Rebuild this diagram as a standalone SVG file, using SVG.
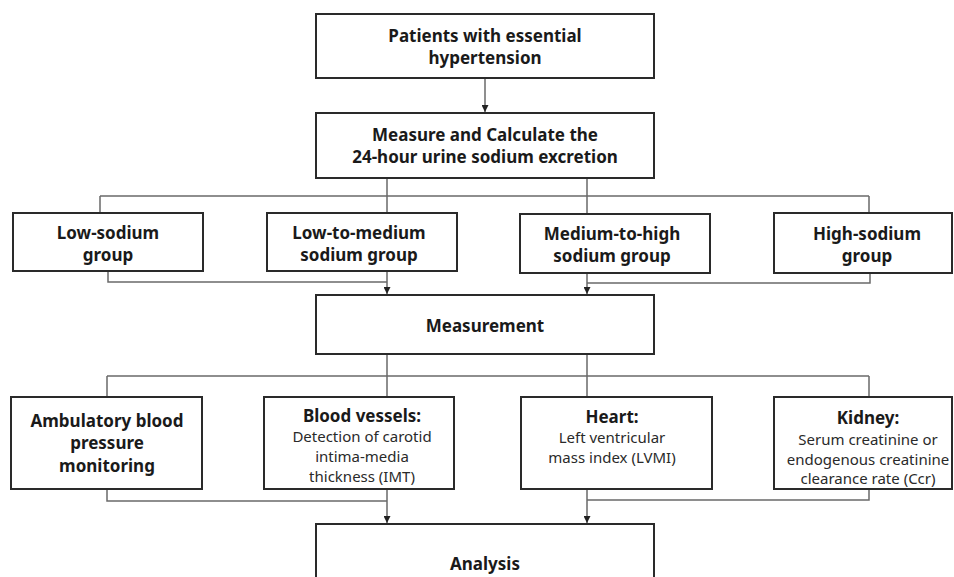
<svg xmlns="http://www.w3.org/2000/svg" width="954" height="577" viewBox="0 0 954 577">
<defs>
<marker id="arr" markerWidth="8" markerHeight="7" refX="7" refY="3.5" orient="auto" markerUnits="userSpaceOnUse">
<path d="M0,0 L7,3.5 L0,7 Z" fill="#222"/>
</marker>
<style>
.box{fill:#fff;stroke:#2a2a2a;stroke-width:2}
.c{fill:none;stroke:#6a6a6a;stroke-width:1.5}
.b{font-family:"Noto Sans","Open Sans","Liberation Sans",sans-serif;font-weight:bold;font-size:17px;fill:#1a1a1a;text-anchor:middle}
.r{font-family:"Noto Sans","Open Sans","Liberation Sans",sans-serif;font-size:15px;fill:#2a2a2a;text-anchor:middle}
</style>
</defs>
<rect width="954" height="577" fill="#fff"/>
<g id="connectors">
<path class="c" d="M485,78 V112" marker-end="url(#arr)"/>
<path class="c" d="M387,178 V196 M587,178 V196 M100,196 H869 M100,196 V213 M387,196 V213 M587,196 V214 M869,196 V213"/>
<path class="c" d="M108,271 V282 H387 M387,271 V294" marker-end="url(#arr)"/>
<path class="c" d="M870,273 V283 H587 M587,273 V294" marker-end="url(#arr)"/>
<path class="c" d="M387,354 V376 M587,354 V376 M107,376 H869 M107,376 V397 M387,376 V397 M587,376 V397 M869,376 V397"/>
<path class="c" d="M107,489 V501 H387 M387,489 V523" marker-end="url(#arr)"/>
<path class="c" d="M869,489 V500 H587 M587,489 V523" marker-end="url(#arr)"/>
</g>
<g id="patients">
<rect class="box" x="316" y="14" width="338" height="64"/>
<text class="b" x="485" y="42">Patients with essential</text>
<text class="b" x="485" y="64">hypertension</text>
</g>
<g id="measure">
<rect class="box" x="316" y="113" width="338" height="65"/>
<text class="b" x="485" y="141">Measure and Calculate the</text>
<text class="b" x="485" y="163">24-hour urine sodium excretion</text>
</g>
<g id="low">
<rect class="box" x="13" y="213" width="190" height="58"/>
<text class="b" x="108" y="239">Low-sodium</text>
<text class="b" x="108" y="261">group</text>
</g>
<g id="lowmed">
<rect class="box" x="267" y="213" width="190" height="58"/>
<text class="b" x="359" y="239">Low-to-medium</text>
<text class="b" x="359" y="261">sodium group</text>
</g>
<g id="medhigh">
<rect class="box" x="520" y="214" width="190" height="59"/>
<text class="b" x="612" y="240">Medium-to-high</text>
<text class="b" x="612" y="262">sodium group</text>
</g>
<g id="high">
<rect class="box" x="774" y="213" width="178" height="60"/>
<text class="b" x="867" y="240">High-sodium</text>
<text class="b" x="867" y="262">group</text>
</g>
<g id="measurement">
<rect class="box" x="316" y="295" width="338" height="59"/>
<text class="b" x="485" y="332">Measurement</text>
</g>
<g id="ambulatory">
<rect class="box" x="11" y="397" width="191" height="92"/>
<text class="b" x="107" y="427">Ambulatory blood</text>
<text class="b" x="107" y="449">pressure</text>
<text class="b" x="107" y="472">monitoring</text>
</g>
<g id="vessels">
<rect class="box" x="264" y="397" width="190" height="92"/>
<text class="b" x="362" y="422">Blood vessels:</text>
<text class="r" x="362" y="442">Detection of carotid</text>
<text class="r" x="362" y="462">intima-media</text>
<text class="r" x="362" y="482">thickness (IMT)</text>
</g>
<g id="heart">
<rect class="box" x="521" y="397" width="191" height="92"/>
<text class="b" x="612" y="423">Heart:</text>
<text class="r" x="612" y="443">Left ventricular</text>
<text class="r" x="612" y="463">mass index (LVMI)</text>
</g>
<g id="kidney">
<rect class="box" x="774" y="397" width="178" height="92"/>
<text class="b" x="868" y="424">Kidney:</text>
<text class="r" x="868" y="445">Serum creatinine or</text>
<text class="r" x="868" y="465">endogenous creatinine</text>
<text class="r" x="868" y="484">clearance rate (Ccr)</text>
</g>
<g id="analysis">
<rect class="box" x="316" y="524" width="338" height="70"/>
<text class="b" x="485" y="570">Analysis</text>
</g>
</svg>
